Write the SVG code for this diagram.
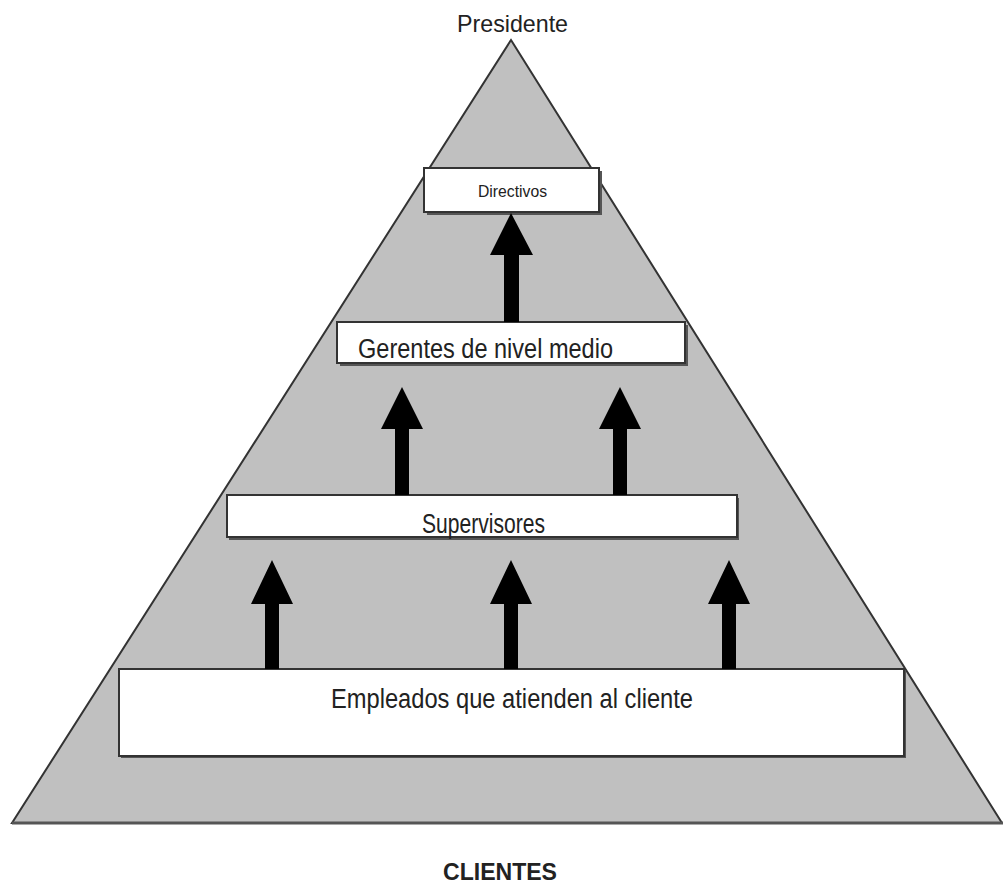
<svg xmlns="http://www.w3.org/2000/svg" width="1003" height="886" viewBox="0 0 1003 886">
<defs>
<style>
.lbl{font-family:"Liberation Sans",Arial,sans-serif;fill:#222}
.box{fill:#fff;stroke:#333;stroke-width:2}
.shadow{fill:#555}
.arrow{fill:#000}
</style>
</defs>
<rect x="0" y="0" width="1003" height="886" fill="#fff"/>
<g id="pyramid">
<polygon points="511,40 1002,823 12,823" fill="#c0c0c0" stroke="#333" stroke-width="2" stroke-linejoin="miter"/>
<line x1="12" y1="823" x2="1003" y2="823" stroke="#555" stroke-width="3"/>
</g>
<text id="presidente" class="lbl" x="457" y="32" font-size="24" textLength="111" lengthAdjust="spacingAndGlyphs">Presidente</text>
<g id="directivos">
<rect class="shadow" x="427" y="171" width="175" height="44"/>
<rect class="box" x="424" y="168" width="175" height="44"/>
<text class="lbl" x="478" y="197" font-size="16" textLength="69" lengthAdjust="spacingAndGlyphs">Directivos</text>
</g>
<g id="gerentes">
<rect class="shadow" x="340" y="325" width="348" height="41"/>
<rect class="box" x="337" y="322" width="348" height="41"/>
<text class="lbl" x="358" y="358" font-size="27" textLength="255" lengthAdjust="spacingAndGlyphs">Gerentes de nivel medio</text>
</g>
<g id="supervisores">
<rect class="shadow" x="229" y="498" width="510" height="42" fill="#222"/>
<rect class="box" x="227" y="495" width="510" height="42"/>
<text class="lbl" x="422" y="533" font-size="27" textLength="123" lengthAdjust="spacingAndGlyphs">Supervisores</text>
</g>
<g id="empleados">
<rect class="shadow" x="121" y="671" width="785" height="87" fill="#888"/>
<rect class="box" x="119" y="669" width="785" height="87"/>
<text class="lbl" x="331" y="708" font-size="27" textLength="362" lengthAdjust="spacingAndGlyphs">Empleados que atienden al cliente</text>
</g>
<g id="connectors">
<polygon class="arrow" points="511,213 533,255 519,255 519,322 504,322 504,255 490,255"/>
<polygon class="arrow" points="402,387 423,429 409,429 409,495 395,495 395,429 381,429"/>
<polygon class="arrow" points="620,387 641,429 627,429 627,495 613,495 613,429 599,429"/>
<polygon class="arrow" points="272,560 293,604 279,604 279,669 265,669 265,604 251,604"/>
<polygon class="arrow" points="511,560 532,604 518,604 518,669 504,669 504,604 490,604"/>
<polygon class="arrow" points="729,560 750,604 736,604 736,669 722,669 722,604 708,604"/>
</g>
<text id="clientes" class="lbl" x="443" y="880" font-size="24" font-weight="bold" fill="#111" textLength="114" lengthAdjust="spacingAndGlyphs">CLIENTES</text>
</svg>
